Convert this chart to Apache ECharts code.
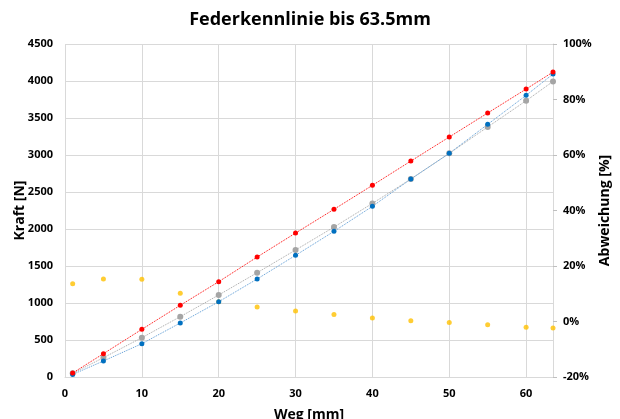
<!DOCTYPE html>
<html><head><meta charset="utf-8">
<script src="https://cdn.jsdelivr.net/npm/echarts@6/dist/echarts.min.js"></script>
<style>html,body{margin:0;padding:0;background:#fff}#c{width:620px;height:419px}</style>
</head><body><div id="c"></div>
<script>
var weg = [1, 5, 10, 15, 20, 25, 30, 35, 40, 45, 50, 55, 60, 63.5];
var kraftRot = [54, 315, 644, 969, 1288, 1621, 1945, 2266, 2590, 2918, 3243, 3567, 3891, 4121];
var kraftBlau = [35, 216, 450, 730, 1017, 1324, 1644, 1968, 2306, 2675, 3022, 3414, 3806, 4094];
var kraftGrau = [50, 261, 531, 815, 1108, 1409, 1716, 2026, 2346, 2675, 3022, 3378, 3733, 3994];
var abweichung = [13.6, 15.3, 15.2, 10.2, 7.1, 5.2, 3.8, 2.5, 1.3, 0.3, -0.4, -1.2, -2.1, -2.3];

function pairs(xs, ys){ return xs.map(function(x,i){ return [x, ys[i]]; }); }

var FONT = '"Open Sans", sans-serif';
var chart = echarts.init(document.getElementById('c'));
chart.setOption({
  animation: false,
  backgroundColor: '#fff',
  title: {
    text: 'Federkennlinie bis 63.5mm', left: 'center', top: 6,
    textStyle: {fontFamily: FONT, fontSize: 18, fontWeight: 'bold', color: '#000'}
  },
  grid: {left: 65, right: 67, top: 44, bottom: 42, containLabel: false, outerBoundsMode: 'none'},
  xAxis: {
    type: 'value', min: 0, max: 63.5, interval: 10,
    name: 'Weg [mm]', nameLocation: 'middle', nameGap: 31, nameMoveOverlap: false,
    nameTextStyle: {fontFamily: FONT, fontSize: 14, fontWeight: 'bold', color: '#000'},
    axisLine: {show: true, lineStyle: {color: '#d9d9d9'}},
    axisTick: {show: false},
    axisLabel: {fontFamily: FONT, fontSize: 11, fontWeight: 'bold', color: '#000', margin: 11, showMaxLabel: false},
    splitLine: {show: true, lineStyle: {color: '#d9d9d9'}}
  },
  yAxis: [{
    type: 'value', min: 0, max: 4500, interval: 500,
    name: 'Kraft [N]', nameLocation: 'middle', nameGap: 38, nameRotate: 90, nameMoveOverlap: false,
    nameTextStyle: {fontFamily: FONT, fontSize: 14, fontWeight: 'bold', color: '#000'},
    axisLine: {show: false}, axisTick: {show: false},
    axisLabel: {fontFamily: FONT, fontSize: 11, fontWeight: 'bold', color: '#000', margin: 12,
      formatter: function(v){ return String(v); }},
    splitLine: {show: true, lineStyle: {color: '#d9d9d9'}}
  }, {
    type: 'value', min: -20, max: 100, interval: 20, position: 'right',
    name: 'Abweichung [%]', nameLocation: 'middle', nameGap: 45, nameRotate: 90, nameMoveOverlap: false,
    nameTextStyle: {fontFamily: FONT, fontSize: 14, fontWeight: 'bold', color: '#000'},
    axisLine: {show: true, lineStyle: {color: '#d9d9d9'}},
    axisTick: {show: true, inside: false, length: 4, lineStyle: {color: '#bfbfbf'}},
    axisLabel: {fontFamily: FONT, fontSize: 11, fontWeight: 'bold', color: '#000', margin: 10, formatter: '{value}%'},
    splitLine: {show: false}
  }],
  series: [{
    type: 'line', data: pairs(weg, kraftGrau), symbol: 'circle', symbolSize: 6,
    itemStyle: {color: '#a5a5a5'}, lineStyle: {color: '#a5a5a5', width: 1, type: 'dotted'}
  }, {
    type: 'line', data: pairs(weg, kraftBlau), symbol: 'circle', symbolSize: 5,
    itemStyle: {color: '#0070c0'}, lineStyle: {color: '#5b9bd5', width: 1, type: 'dotted'}
  }, {
    type: 'line', data: pairs(weg, kraftRot), symbol: 'circle', symbolSize: 5,
    itemStyle: {color: '#ff0000'}, lineStyle: {color: '#ff0000', width: 1, type: 'dotted'}
  }, {
    type: 'scatter', yAxisIndex: 1, data: pairs(weg, abweichung), symbol: 'circle', symbolSize: 5,
    itemStyle: {color: '#ffc000'}
  }]
});
</script></body></html>
